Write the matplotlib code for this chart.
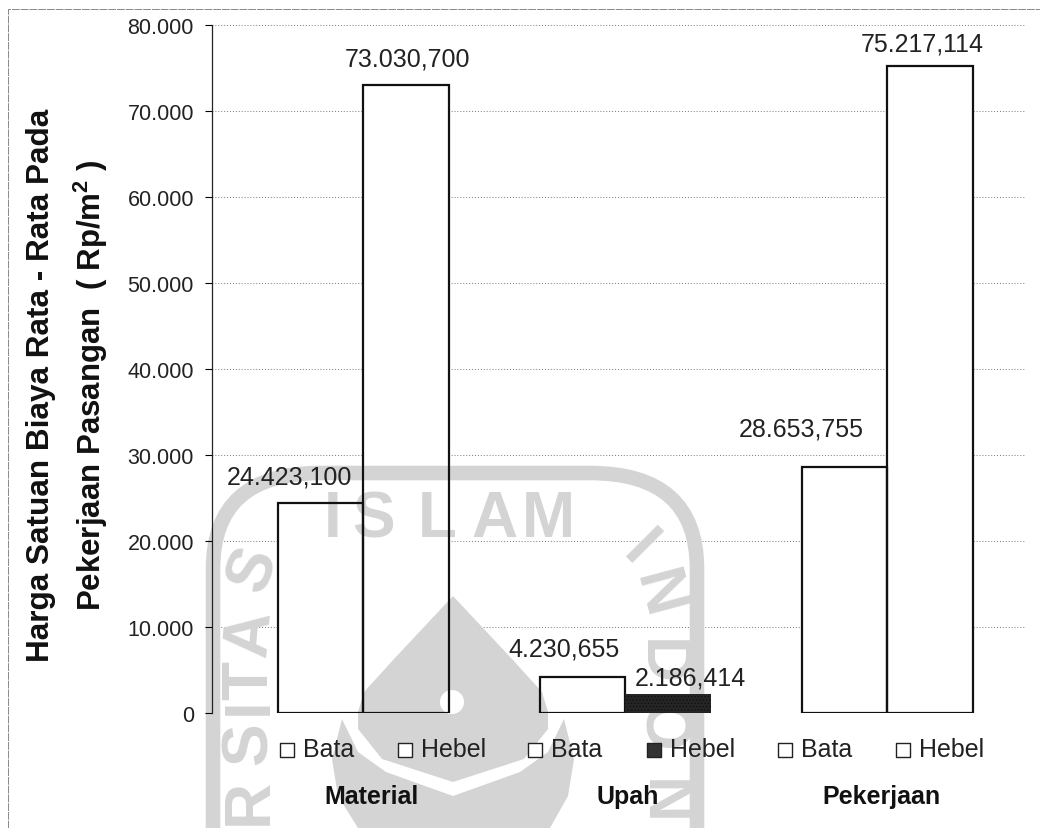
import numpy as np
import matplotlib
matplotlib.use('Agg')
import matplotlib.pyplot as plt
from matplotlib.path import Path
from matplotlib.patches import PathPatch, Polygon, Circle

plt.rcParams['font.family'] = ['Liberation Sans', 'DejaVu Sans']
plt.rcParams['mathtext.fontset'] = 'custom'
plt.rcParams['mathtext.bf'] = 'Liberation Sans:bold'
plt.rcParams['hatch.linewidth'] = 0.7
plt.rcParams['hatch.color'] = '#888888'

W, H = 1040, 829

groups = ['Material', 'Upah', 'Pekerjaan']
series = ['Bata', 'Hebel']
bata = [24423.100, 4230.655, 28653.755]
hebel = [73030.700, 2186.414, 75217.114]
bata_labels = ['24.423,100', '4.230,655', '28.653,755']
hebel_labels = ['73.030,700', '2.186,414', '75.217,114']
yticks = [0, 10000, 20000, 30000, 40000, 50000, 60000, 70000, 80000]
ytick_labels = ['0', '10.000', '20.000', '30.000', '40.000', '50.000', '60.000', '70.000', '80.000']

fig = plt.figure(figsize=(W / 100, H / 100), dpi=100)

left, right, top, bottom = 212, 1025, 26, 714
rect = [left / W, 1 - bottom / H, (right - left) / W, (bottom - top) / H]
px = 262.0
x0 = np.arange(len(groups))
w = 85.5 / px

# layer 1: grid and white bar fills
under = fig.add_axes(rect, zorder=0)
under.set_xlim((left - 363) / px, (right - 363) / px)
under.set_ylim(0, 80000)
under.axis('off')
for t in yticks[1:]:
    under.axhline(t, color='#777777', lw=0.7, ls=(0, (1, 2)), zorder=1)
under.bar(x0 - w / 2, bata, w, fc='white', ec='none', zorder=2)
under.bar(x0 + w / 2, hebel, w, fc='white', ec='none', zorder=2)

# layer 2: scanned watermark, sits over the bar fills, pixel coordinates
bg = fig.add_axes([0, 0, 1, 1], zorder=1)
bg.patch.set_alpha(0)
bg.set_xlim(0, W)
bg.set_ylim(H, 0)
bg.axis('off')
wm = '#d4d4d4'
ring = Path([(213, 829), (213, 570), (213, 474), (320, 474), (590, 474), (697, 474), (697, 570), (697, 829)],
            [Path.MOVETO, Path.LINETO, Path.CURVE3, Path.CURVE3, Path.LINETO, Path.CURVE3, Path.CURVE3, Path.LINETO])
bg.add_patch(PathPatch(ring, fc='none', ec=wm, lw=10.5))
bg.add_patch(Polygon([(453, 597), (394, 660), (364, 693), (358, 713), (358, 730), (382, 760), (453, 783),
                      (524, 760), (548, 730), (548, 713), (542, 693), (512, 660)], fc=wm, ec='none'))
bg.add_patch(Circle((452, 703), 12, fc='white', ec='none'))
bg.add_patch(Polygon([(342, 720), (332, 760), (338, 797), (358, 829), (550, 829), (568, 797), (574, 760), (564, 720),
                      (548, 753), (520, 773), (453, 797), (386, 773), (358, 753)], fc=wm, ec='none'))
for ch, x, y, r in [('I', 333, 520, 0), ('S', 374, 520, 0), ('L', 437, 520, 0), ('A', 494, 520, 0), ('M', 548, 520, 0),
                    ('S', 254, 570, 70), ('A', 250, 634, 85), ('T', 250, 680, 90), ('I', 250, 706, 90), ('S', 250, 744, 90), ('R', 250, 802, 90),
                    ('I', 639, 550, -45), ('N', 657, 595, -75), ('D', 660, 662, -90), ('O', 660, 727, -90), ('N', 662, 802, -90)]:
    bg.text(x, y, ch, fontsize=46, fontweight='bold', color=wm, ha='center', va='center', rotation=r)

# scan border
bg.plot([8, 8, 1040], [829, 10, 10], color='#888888', lw=0.7, ls=(0, (8, 1)))

# layer 3: bar outlines, axis, text
ax = fig.add_axes(rect, zorder=2)
ax.patch.set_alpha(0)
ax.set_xlim((left - 363) / px, (right - 363) / px)
ax.set_ylim(0, 80000)
bars1 = ax.bar(x0 - w / 2, bata, w, fc='none', ec='#111111', lw=1.6, zorder=3)
bars2 = ax.bar(x0 + w / 2, hebel, w, fc='none', ec='#111111', lw=1.6, zorder=3)
dark = bars2[1]
dark.set_facecolor('#262626')
dark.set_linewidth(0)
dark.set_hatch('.....')

for s in ['top', 'right', 'bottom']:
    ax.spines[s].set_visible(False)
ax.spines['left'].set_linewidth(0.9)
ax.spines['left'].set_color('#222222')
ax.set_xticks([])
ax.set_yticks(yticks)
ax.set_yticklabels(ytick_labels, fontsize=15.5, color='#222222')
ax.tick_params(axis='y', length=5, width=0.8, pad=8)

# value labels sit off-centre like the original
for b, t, dx, dy in zip(bars1, bata_labels, [-31, -18, -43], [14, 16, 26]):
    ax.annotate(t, (b.get_x() + w / 2, b.get_height()), xytext=(dx / 1.39, dy / 1.39), textcoords='offset points',
                ha='center', va='bottom', fontsize=18, color='#222222', zorder=5)
for b, t, dx, dy in zip(bars2, hebel_labels, [2, 23, -8], [14, 5, 11]):
    ax.annotate(t, (b.get_x() + w / 2, b.get_height()), xytext=(dx / 1.39, dy / 1.39), textcoords='offset points',
                ha='center', va='bottom', fontsize=18, color='#222222', zorder=5)

# hand placed legend row under each bar
leg_y = 750
leg_x = [287, 405, 535, 654, 785, 903]
names = series * 3
for i, (x, n) in enumerate(zip(leg_x, names)):
    col = '#333333' if i == 3 else 'white'
    ax.scatter([(x - 363) / px], [(bottom - leg_y - 1) * 80000 / (bottom - top)], marker='s', s=105, fc=col, ec='#222222',
               lw=1, zorder=4, clip_on=False)
    fig.text((x + 16) / W, 1 - leg_y / H, n, fontsize=18, color='#222222', va='center', ha='left', zorder=5)

for name, x in zip(groups, [372, 628, 881]):
    fig.text(x / W, 1 - 797 / H, name, fontsize=18, fontweight='bold', color='#111111', ha='center', va='center', zorder=5)

fig.text(41 / W, 1 - 385 / H, 'Harga Satuan Biaya Rata - Rata Pada', rotation=90, fontsize=22.7, fontweight='bold',
         color='#111111', ha='center', va='center', zorder=5)
fig.text(91 / W, 1 - 385 / H, r'Pekerjaan Pasangan  ( Rp/m$\mathbf{^2}$ )', rotation=90, fontsize=22.5, fontweight='bold',
         color='#111111', ha='center', va='center', zorder=5)

fig.savefig('out.png', dpi=100)
